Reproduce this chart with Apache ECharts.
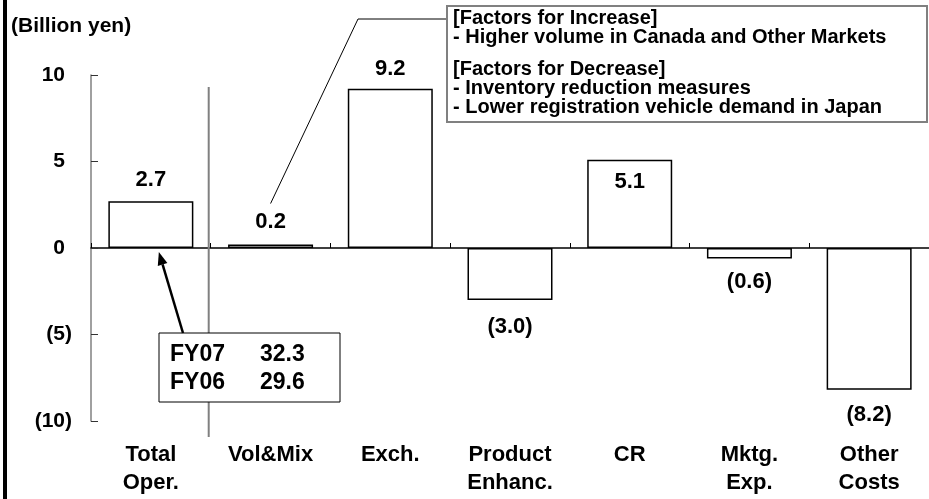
<!DOCTYPE html>
<html>
<head>
<meta charset="utf-8">
<script src="https://cdn.jsdelivr.net/npm/echarts@6/dist/echarts.min.js"></script>
<style>
html,body{margin:0;padding:0;background:#fff;}
#chart{width:929px;height:499px;}
</style>
</head>
<body>
<div id="chart"></div>
<script>
// ---- data ----
const unitLabel = '(Billion yen)';
const categories = ['Total\nOper.', 'Vol&Mix', 'Exch.', 'Product\nEnhanc.', 'CR', 'Mktg.\nExp.', 'Other\nCosts'];
const values = [2.7, 0.2, 9.2, -3.0, 5.1, -0.6, -8.2];
const yMin = -10, yMax = 10, yStep = 5;
const factorLines = [
  '[Factors for Increase]',
  '- Higher volume in Canada and Other Markets',
  '[Factors for Decrease]',
  '- Inventory reduction measures',
  '- Lower registration vehicle demand in Japan'
];
const fyRows = [['FY07', '32.3'], ['FY06', '29.6']];

// ---- styling ----
const FONT = 'Arial, "Liberation Sans", sans-serif';
const labelPlacement = ['top', 'top', 'top', 'bottom', 'insideTop', 'bottom', 'bottom'];
const labelDistance = [10, 12, 9, 16, 11, 13, 14];

function fmt(v) { return v < 0 ? '(' + Math.abs(v).toFixed(1) + ')' : v.toFixed(1); }

const chart = echarts.init(document.getElementById('chart'), null, {renderer: 'canvas'});

const barData = values.map((v, i) => ({
  value: v,
  label: {position: labelPlacement[i], distance: labelDistance[i]}
}));

const option = {
  backgroundColor: '#fff',
  animation: false,
  grid: {left: 91, right: -9, top: 75, bottom: 78, containLabel: false},
  xAxis: [{
    type: 'category',
    data: categories,
    position: 'top',
    axisLine: {onZero: true, lineStyle: {color: '#000', width: 1.5}},
    axisTick: {show: true, inside: false, length: 5, lineStyle: {color: '#000', width: 1}},
    axisLabel: {show: false},
    splitLine: {show: false}
  }, {
    type: 'category',
    data: categories,
    position: 'bottom',
    axisLine: {show: false, onZero: false},
    axisTick: {show: false},
    axisLabel: {
      show: true, margin: 20, color: '#000', fontFamily: FONT, fontWeight: 'bold',
      fontSize: 22, lineHeight: 28, interval: 0
    },
    splitLine: {show: false}
  }],
  yAxis: {
    type: 'value',
    min: yMin, max: yMax, interval: yStep,
    axisLine: {show: true, lineStyle: {color: '#808080', width: 1.5}},
    axisTick: {show: true, inside: true, length: 7, lineStyle: {color: '#333', width: 1}},
    splitLine: {show: false},
    axisLabel: {
      margin: 19, color: '#000', fontFamily: FONT, fontWeight: 'bold', fontSize: 21,
      formatter: v => v < 0 ? '(' + Math.abs(v) + ')' : v + '{h|)}',
      rich: {h: {color: 'transparent', fontFamily: FONT, fontWeight: 'bold', fontSize: 21}}
    }
  },
  series: [{
    type: 'bar',
    xAxisIndex: 0,
    data: barData,
    barWidth: '71%',
    itemStyle: {color: '#fff', borderColor: '#000', borderWidth: 1.5},
    label: {
      show: true, color: '#000', fontFamily: FONT, fontWeight: 'bold', fontSize: 22,
      formatter: p => fmt(p.value)
    }
  }]
};
chart.setOption(option);

// ---- annotations anchored to the axes ----
const p0 = chart.convertToPixel({xAxisIndex: 0, yAxisIndex: 0}, [0, 0]);
const p1 = chart.convertToPixel({xAxisIndex: 0, yAxisIndex: 0}, [1, 0]);
const pVol = chart.convertToPixel({xAxisIndex: 0, yAxisIndex: 0}, [1, values[1]]);
const pTop = chart.convertToPixel({xAxisIndex: 0, yAxisIndex: 0}, [0, yMax]);
const pBot = chart.convertToPixel({xAxisIndex: 0, yAxisIndex: 0}, [0, yMin]);
const sepX = (p0[0] + p1[0]) / 2 - 2;

// arrow
const arrowStart = [183, 333];
const arrowTip = [p0[0] + 8, p0[1] + 4];
const dx = arrowTip[0] - arrowStart[0], dy = arrowTip[1] - arrowStart[1];
const len = Math.sqrt(dx * dx + dy * dy), ux = dx / len, uy = dy / len;
const headL = 13, headW = 5;
const baseX = arrowTip[0] - ux * headL, baseY = arrowTip[1] - uy * headL;
const arrowHead = [arrowTip, [baseX - uy * headW, baseY + ux * headW], [baseX + uy * headW, baseY - ux * headW]];

const boxTextY = [18, 37, 69, 88, 107];
const graphics = [
  // left frame line
  {type: 'rect', shape: {x: 3, y: 0, width: 4, height: 499}, style: {fill: '#000'}, z: 100},
  // separator after Total
  {type: 'line', shape: {x1: sepX, y1: pTop[1] + 12, x2: sepX, y2: pBot[1] + 16}, style: {stroke: '#808080', lineWidth: 2}, z: 1},
  // unit label
  {type: 'text', left: 11, top: 16, style: {text: unitLabel, fill: '#000', font: 'bold 21px ' + FONT}, z: 100},
  // factors box
  {type: 'rect', shape: {x: 447, y: 6, width: 480, height: 116}, style: {fill: '#fff', stroke: '#808080', lineWidth: 2}, z: 90},
  // connector
  {type: 'polyline', shape: {points: [[447, 19], [358, 19], [pVol[0], pVol[1] - 41]]}, style: {stroke: '#000', lineWidth: 1, fill: null}, z: 89},
  // FY box
  {type: 'rect', shape: {x: 159, y: 333, width: 181, height: 69}, style: {fill: '#fff', stroke: '#000', lineWidth: 1}, z: 90},
  // arrow
  {type: 'line', shape: {x1: arrowStart[0], y1: arrowStart[1], x2: baseX, y2: baseY}, style: {stroke: '#000', lineWidth: 2.5}, z: 91},
  {type: 'polygon', shape: {points: arrowHead}, style: {fill: '#000'}, z: 91}
];
factorLines.forEach((t, i) => {
  graphics.push({type: 'text', x: 453, y: boxTextY[i], style: {text: t, fill: '#000', font: 'bold 20px ' + FONT, textVerticalAlign: 'middle', verticalAlign: 'middle'}, z: 95});
});
fyRows.forEach((r, i) => {
  const y = 355 + i * 28;
  graphics.push({type: 'text', x: 170, y: y, style: {text: r[0], fill: '#000', font: 'bold 23px ' + FONT, verticalAlign: 'middle'}, z: 95});
  graphics.push({type: 'text', x: 260, y: y, style: {text: r[1], fill: '#000', font: 'bold 23px ' + FONT, verticalAlign: 'middle'}, z: 95});
});
chart.setOption({graphic: graphics});
</script>
</body>
</html>
